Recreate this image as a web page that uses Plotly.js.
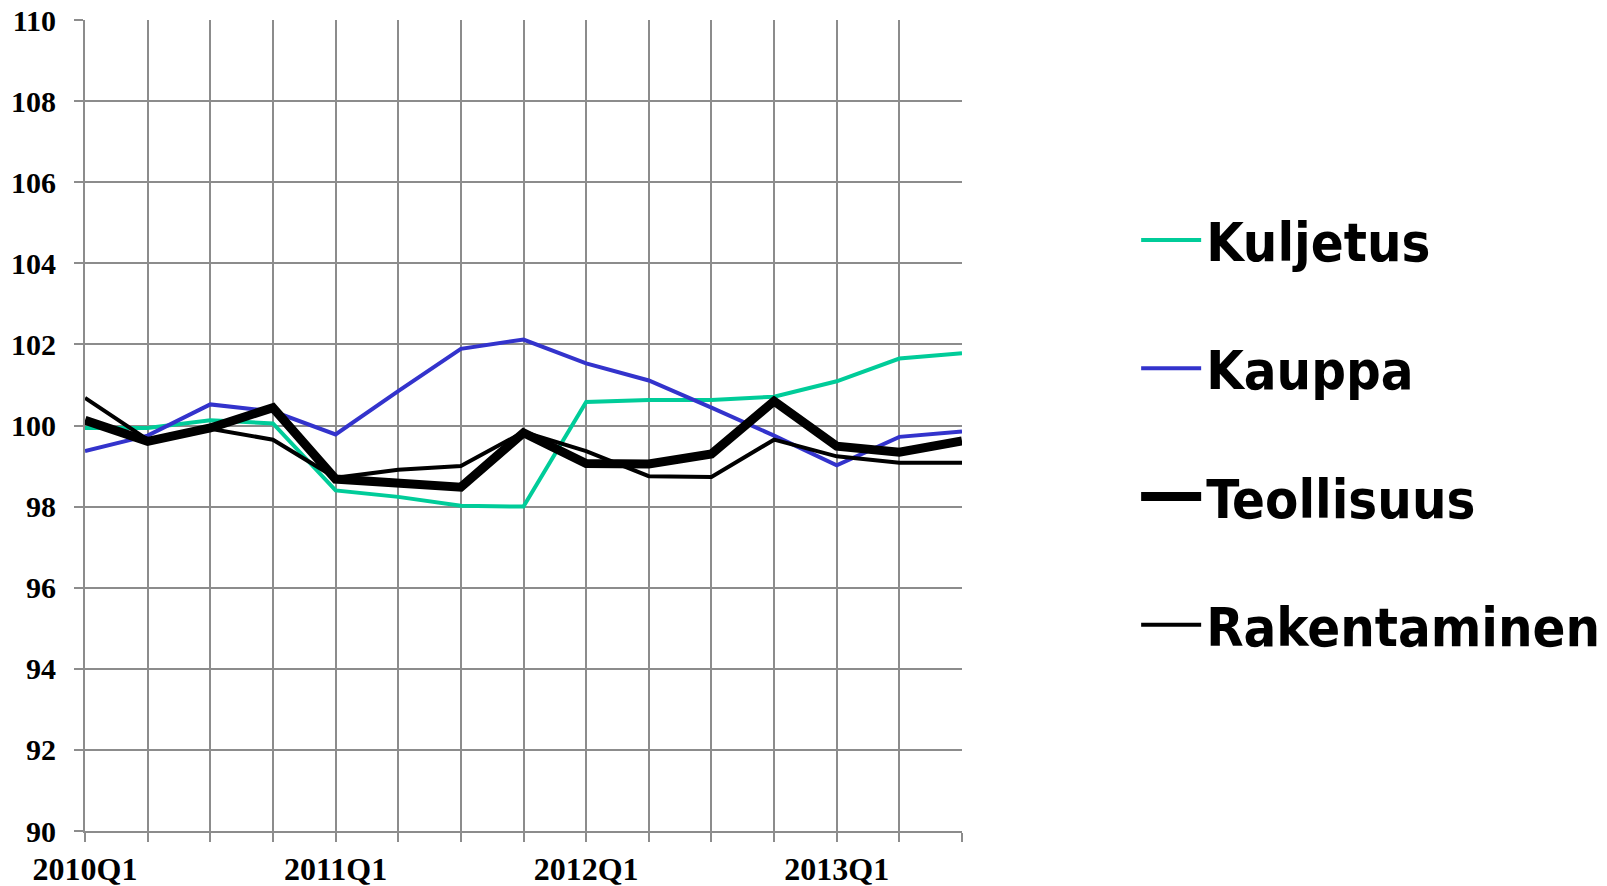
<!DOCTYPE html>
<html>
<head>
<meta charset="utf-8">
<script src="https://cdn.plot.ly/plotly-3.0.1.min.js"></script>
<style>html,body{margin:0;padding:0;background:#fff;}#chart{width:1607px;height:886px;}</style>
</head>
<body>
<div id="chart"></div>
<script>
const quarters = ['2010Q1','2010Q2','2010Q3','2010Q4','2011Q1','2011Q2','2011Q3','2011Q4','2012Q1','2012Q2','2012Q3','2012Q4','2013Q1','2013Q2','2013Q3'];
const tickLabels = ['2010Q1','','','','2011Q1','','','','2012Q1','','','','2013Q1','',''];
const kuljetus = [99.94, 99.94, 100.13, 100.05, 98.40, 98.24, 98.02, 98.00, 100.58, 100.63, 100.63, 100.71, 101.09, 101.65, 101.78];
const kauppa = [99.37, 99.75, 100.52, 100.35, 99.78, 100.85, 101.89, 102.12, 101.53, 101.11, 100.44, 99.75, 99.02, 99.72, 99.85];
const teollisuus = [100.13, 99.61, 99.94, 100.44, 98.68, 98.60, 98.48, 99.82, 99.06, 99.05, 99.30, 100.60, 99.49, 99.34, 99.62];
const rakentaminen = [100.68, 99.65, 99.92, 99.65, 98.71, 98.91, 99.00, 99.84, 99.37, 98.75, 98.73, 99.65, 99.24, 99.08, 99.08];

const traces = [
  {name:'Kuljetus', y:kuljetus, color:'#00CC99', width:4},
  {name:'Kauppa', y:kauppa, color:'#3333CC', width:4},
  {name:'Teollisuus', y:teollisuus, color:'#000000', width:9},
  {name:'Rakentaminen', y:rakentaminen, color:'#000000', width:4}
].map((s,i)=>({
  type:'scatter', mode:'lines', x:quarters, y:s.y, name:s.name,
  legendgroup:'g'+i,
  line:{color:s.color, width:s.width}
}));

const layout = {
  width:1607, height:886,
  margin:{l:85, r:645, t:20, b:55, autoexpand:false},
  paper_bgcolor:'#fff', plot_bgcolor:'#fff',
  showlegend:true,
  legend:{
    xref:'container', yref:'container',
    x:0.707, xanchor:'left', y:0.776, yanchor:'top',
    maxheight:800,
    font:{family:'"DejaVu Sans Condensed", "DejaVu Sans", sans-serif', size:54, color:'#000', weight:'bold'},
    tracegroupgap:55, itemwidth:60, bgcolor:'rgba(0,0,0,0)'
  },
  xaxis:{
    type:'category', range:[0,14],
    tickmode:'array', tickvals:quarters, ticktext:tickLabels,
    showgrid:true, gridcolor:'#8c8c8c', gridwidth:2,
    showline:true, linecolor:'#8c8c8c', linewidth:2,
    ticks:'outside', ticklen:9, tickcolor:'#8c8c8c', tickwidth:2,
    tickfont:{family:'"Liberation Serif", "Times New Roman", serif', size:32, color:'#000', weight:'bold'},
    zeroline:false, fixedrange:true
  },
  yaxis:{
    range:[90,110], dtick:2, tick0:90,
    showgrid:true, gridcolor:'#8c8c8c', gridwidth:2,
    showline:true, linecolor:'#8c8c8c', linewidth:2,
    ticks:'outside', ticklen:9, tickcolor:'#8c8c8c', tickwidth:2,
    tickfont:{family:'"Liberation Serif", "Times New Roman", serif', size:30, color:'#000', weight:'bold'},
    ticklabelstandoff:12,
    zeroline:false, fixedrange:true
  }
};

Plotly.newPlot('chart', traces, layout, {displayModeBar:false, staticPlot:true});
</script>
</body>
</html>
